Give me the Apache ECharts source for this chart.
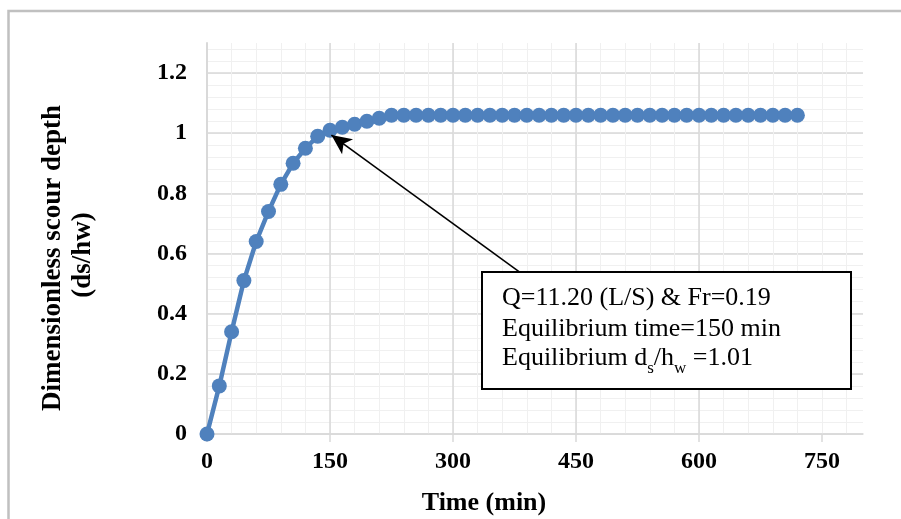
<!DOCTYPE html>
<html>
<head>
<meta charset="utf-8">
<script src="https://cdn.jsdelivr.net/npm/echarts@6/dist/echarts.min.js"></script>
<style>html,body{margin:0;padding:0;background:#fff;}#c{width:901px;height:519px;}</style>
</head>
<body>
<div id="c"></div>
<script>
const times = [0,15,30,45,60,75,90,105,120,135,150,165,180,195,210,225,240,255,270,285,300,315,330,345,360,375,390,405,420,435,450,465,480,495,510,525,540,555,570,585,600,615,630,645,660,675,690,705,720];
const depth = [0,0.16,0.34,0.51,0.64,0.74,0.83,0.90,0.95,0.99,1.01,1.02,1.03,1.04,1.05,1.06,1.06,1.06,1.06,1.06,1.06,1.06,1.06,1.06,1.06,1.06,1.06,1.06,1.06,1.06,1.06,1.06,1.06,1.06,1.06,1.06,1.06,1.06,1.06,1.06,1.06,1.06,1.06,1.06,1.06,1.06,1.06,1.06,1.06];
const xTicks = [0,150,300,450,600,750];
const yTicks = [0,0.2,0.4,0.6,0.8,1,1.2];
const arrowFrom = [383, 0.535];
const arrowTo = [151.7, 0.994];
const noteLines = ['Q=11.20 (L/S) & Fr=0.19', 'Equilibrium time=150 min', 'Equilibrium d{s|s}/h{s|w} =1.01'];
const xTitle = 'Time (min)';
const yTitle = ['Dimensionless scour depth', '(ds/hw)'];

const serif = 'Liberation Serif';
const chart = echarts.init(document.getElementById('c'), null, {renderer:'canvas'});
const majorGrid = '#d9d9d9', minorGrid = '#f0f0f0';
chart.setOption({
  animation:false,
  backgroundColor:'#fff',
  grid:{left:207, top:43, width:656, height:391, containLabel:false, outerBoundsMode:'none'},
  xAxis:[
    {type:'value', min:0, max:800, interval:30, position:'bottom',
     axisLine:{show:false}, axisTick:{show:false}, axisLabel:{show:false},
     splitLine:{show:true, showMaxLine:false, lineStyle:{color:minorGrid, width:1}}},
    {type:'value', min:0, max:800, interval:150, position:'bottom',
     axisLine:{show:true, onZero:false, lineStyle:{color:majorGrid, width:1.5}},
     axisTick:{show:true, length:8, customValues:xTicks, lineStyle:{color:majorGrid, width:1.5}},
     axisLabel:{show:true, customValues:xTicks, margin:16, fontFamily:serif, fontWeight:'bold', fontSize:24, color:'#000'},
     splitLine:{show:true, showMaxLine:false, lineStyle:{color:majorGrid, width:1.5}}}
  ],
  yAxis:[
    {type:'value', min:0, max:1.3, interval:0.04, position:'left',
     axisLine:{show:false}, axisTick:{show:false}, axisLabel:{show:false},
     splitLine:{show:true, showMaxLine:false, lineStyle:{color:minorGrid, width:1}}},
    {type:'value', min:0, max:1.3, interval:0.2, position:'left',
     axisLine:{show:true, onZero:false, lineStyle:{color:majorGrid, width:2}},
     axisTick:{show:false},
     axisLabel:{show:true, customValues:yTicks, margin:20, fontFamily:serif, fontWeight:'bold', fontSize:24, color:'#000',
       formatter:function(v){return String(Math.round(v*10)/10);}},
     splitLine:{show:true, showMaxLine:false, lineStyle:{color:majorGrid, width:1.5}}}
  ],
  series:[{
    type:'line', xAxisIndex:1, yAxisIndex:1,
    data: times.map(function(t,i){return [t, depth[i]];}),
    symbol:'circle', symbolSize:15, showSymbol:true,
    lineStyle:{width:4.5, color:'#4F81BD'},
    itemStyle:{color:'#4F81BD'},
    z:3,
    markLine:{
      silent:true, animation:false,
      symbol:['none','arrow'], symbolSize:[14,20],
      lineStyle:{color:'#000', width:1.6, type:'solid'},
      label:{show:false},
      emphasis:{disabled:true},
      data:[[{coord:arrowFrom},{coord:arrowTo}]]
    }
  }],
  graphic:[
    {type:'rect', z:200, silent:true, shape:{x:8.5, y:11, width:1200, height:800}, style:{fill:null, stroke:'#c0c0c0', lineWidth:2.5}},
    {type:'rect', z:100, silent:true, shape:{x:482, y:272, width:369, height:117}, style:{fill:'#fff', stroke:'#000', lineWidth:2}},
    {type:'text', z:101, silent:true, x:502, y:298, style:{text:noteLines[0], fontSize:26, fontFamily:serif, fill:'#000', align:'left', verticalAlign:'middle'}},
    {type:'text', z:101, silent:true, x:502, y:329, style:{text:noteLines[1], fontSize:26, fontFamily:serif, fill:'#000', align:'left', verticalAlign:'middle'}},
    {type:'text', z:101, silent:true, x:502, y:358, style:{text:noteLines[2], fontSize:26, fontFamily:serif, fill:'#000', align:'left', verticalAlign:'middle', lineHeight:38,
      rich:{s:{fontSize:17, fontFamily:serif, fill:'#000', verticalAlign:'bottom', lineHeight:17}}}},
    {type:'text', silent:true, x:484, y:503, style:{text:xTitle, fontSize:26, fontWeight:'bold', fontFamily:serif, fill:'#000', align:'center', verticalAlign:'middle'}},
    {type:'text', silent:true, x:53, y:258, rotation:Math.PI/2, style:{text:yTitle[0], fontSize:27, fontWeight:'bold', fontFamily:serif, fill:'#000', align:'center', verticalAlign:'middle'}},
    {type:'text', silent:true, x:83, y:255, rotation:Math.PI/2, style:{text:yTitle[1], fontSize:27, fontWeight:'bold', fontFamily:serif, fill:'#000', align:'center', verticalAlign:'middle'}}
  ]
});
</script>
</body>
</html>
